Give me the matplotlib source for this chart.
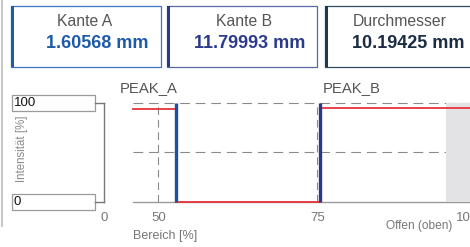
import matplotlib
matplotlib.use("Agg")
import matplotlib.pyplot as plt
from matplotlib.patches import Rectangle

# ── Data ─────────────────────────────────────────────────────────────────────
CARD_LABELS = ["Kante A", "Kante B", "Durchmesser"]
CARD_VALUES = ["1.60568 mm", "11.79993 mm", "10.19425 mm"]
PEAK_LABELS = ["PEAK_A", "PEAK_B"]
PEAK_POS    = [52.9, 75.55]            # % Bereich
SIGNAL_X    = [46.0, 52.9, 52.9, 75.55, 75.55, 99.1]
SIGNAL_Y    = [94, 94, 0, 0, 95, 95]   # Intensität [%]
X_TICKS     = [50, 75, 100]
Y_LEVELS    = ["100", "0"]
SHADE_FROM  = 95.3

# ── Style ────────────────────────────────────────────────────────────────────
W, H = 470, 247
CARD_EDGE  = ["#3b74c4", "#5b68a8", "#2c4a62"]
CARD_LEFT  = ["#1f5cb0", "#2c3a8c", "#1c3a4e"]
VALUE_COL  = ["#1f5aaa", "#2b3a8c", "#1b2c45"]
RED   = "#e8333c"
BAR_A = "#1f4fa0"
BAR_B = "#2a3888"
GRID  = "#8a8a8a"
SHADE = "#e3e3e6"
AXTXT = "#777777"

plt.rcParams["font.family"] = "Liberation Sans"
plt.rcParams["lines.scale_dashes"] = False

fig = plt.figure(figsize=(W / 100, H / 100), dpi=100, facecolor="white")

# ── UI layer in pixel coords ─────────────────────────────────────────────────
ui = fig.add_axes([0, 0, 1, 1])
ui.set_xlim(0, W)
ui.set_ylim(H, 0)
ui.axis("off")

ui.add_patch(Rectangle((0.5, 0), 2.2, 227, color="#c8c8c8", lw=0))

card_x = [11, 167, 325]
label_cx = [85, 244, 400]
value_cx = [97.5, 250, 408]
for i in range(3):
    x0 = card_x[i]
    ui.add_patch(Rectangle((x0, 6.5), 150, 60.5, fill=False,
                           edgecolor=CARD_EDGE[i], lw=0.9))
    ui.add_patch(Rectangle((x0 - 0.5, 6), 3, 61.5, color=CARD_LEFT[i], lw=0))
    ui.text(label_cx[i], 21.5, CARD_LABELS[i], ha="center", va="center",
            fontsize=11.3, color="#555555")
    ui.text(value_cx[i], 43, CARD_VALUES[i], ha="center", va="center",
            fontsize=13, fontweight="bold", color=VALUE_COL[i])

# Y level input boxes + bracket
box_y = [95, 194]
conn_y = [103, 202]
for lbl, y0 in zip(Y_LEVELS, box_y):
    ui.add_patch(Rectangle((12, y0), 83, 15.5, fill=False,
                           edgecolor="#9a9a9a", lw=0.9))
    ui.text(13.5, y0 + 8, lbl, ha="left", va="center",
            fontsize=9.5, color="#111111")
for y in conn_y:
    ui.plot([95, 104], [y, y], color="#777777", lw=1.0)
ui.plot([104, 104], conn_y, color="#777777", lw=1.0)
ui.text(104, 218, "0", ha="center", va="center", fontsize=9.5, color=AXTXT)
ui.text(22, 148.5, "Intensität [%]", ha="center", va="center", rotation=90,
        fontsize=8.3, color="#8a8a8a")
ui.text(133, 236, "Bereich [%]", ha="left", va="center",
        fontsize=9, color=AXTXT)
ui.text(386, 225.5, "Offen (oben)", ha="left", va="center",
        fontsize=8.6, color=AXTXT)

# ── Chart ────────────────────────────────────────────────────────────────────
L, R, T, B = 133, 470, 103, 202
ax = fig.add_axes([L / W, 1 - B / H, (R - L) / W, (B - T) / H])
ax.set_xlim(46.07, 99.06)
ax.set_ylim(0, 100)
ax.axis("off")
ax.patch.set_alpha(0)

dash = (7.0, 4.2)
for y in (100, 50):
    ax.plot([46.07, 99.06], [y, y], color=GRID, lw=0.8, dashes=dash,
            clip_on=False, zorder=1)
for x in X_TICKS[:2]:
    ax.plot([x, x], [0, 100], color=GRID, lw=0.8, dashes=(5.5, 3.5),
            clip_on=False, zorder=1)
ax.plot([46.07, 99.06], [0, 0], color="#9a9a9a", lw=1.0, clip_on=False, zorder=1)
ax.axvspan(SHADE_FROM, 99.06, ymin=0, ymax=1, color=SHADE, lw=0, zorder=2)

ax.plot(SIGNAL_X, SIGNAL_Y, color=RED, lw=1.3, clip_on=False, zorder=3)
for pos, col in zip(PEAK_POS, [BAR_A, BAR_B]):
    ax.plot([pos, pos], [0, 100.5], color=col, lw=2.4, clip_on=False,
            solid_capstyle="butt", zorder=4)
for lbl, pos in zip(PEAK_LABELS, [48.55, 80.4]):
    ax.text(pos, 115.5, lbl, ha="center", va="center", fontsize=10.7,
            color="#555555", clip_on=False)

for x in X_TICKS:
    ax.text(x + (0.15 if x < 100 else 0.4), -16.5, str(x),
            ha="center" if x < 100 else "right", va="center", fontsize=9.5,
            color=AXTXT, clip_on=False)

fig.savefig("out.png", dpi=100, facecolor="white")
